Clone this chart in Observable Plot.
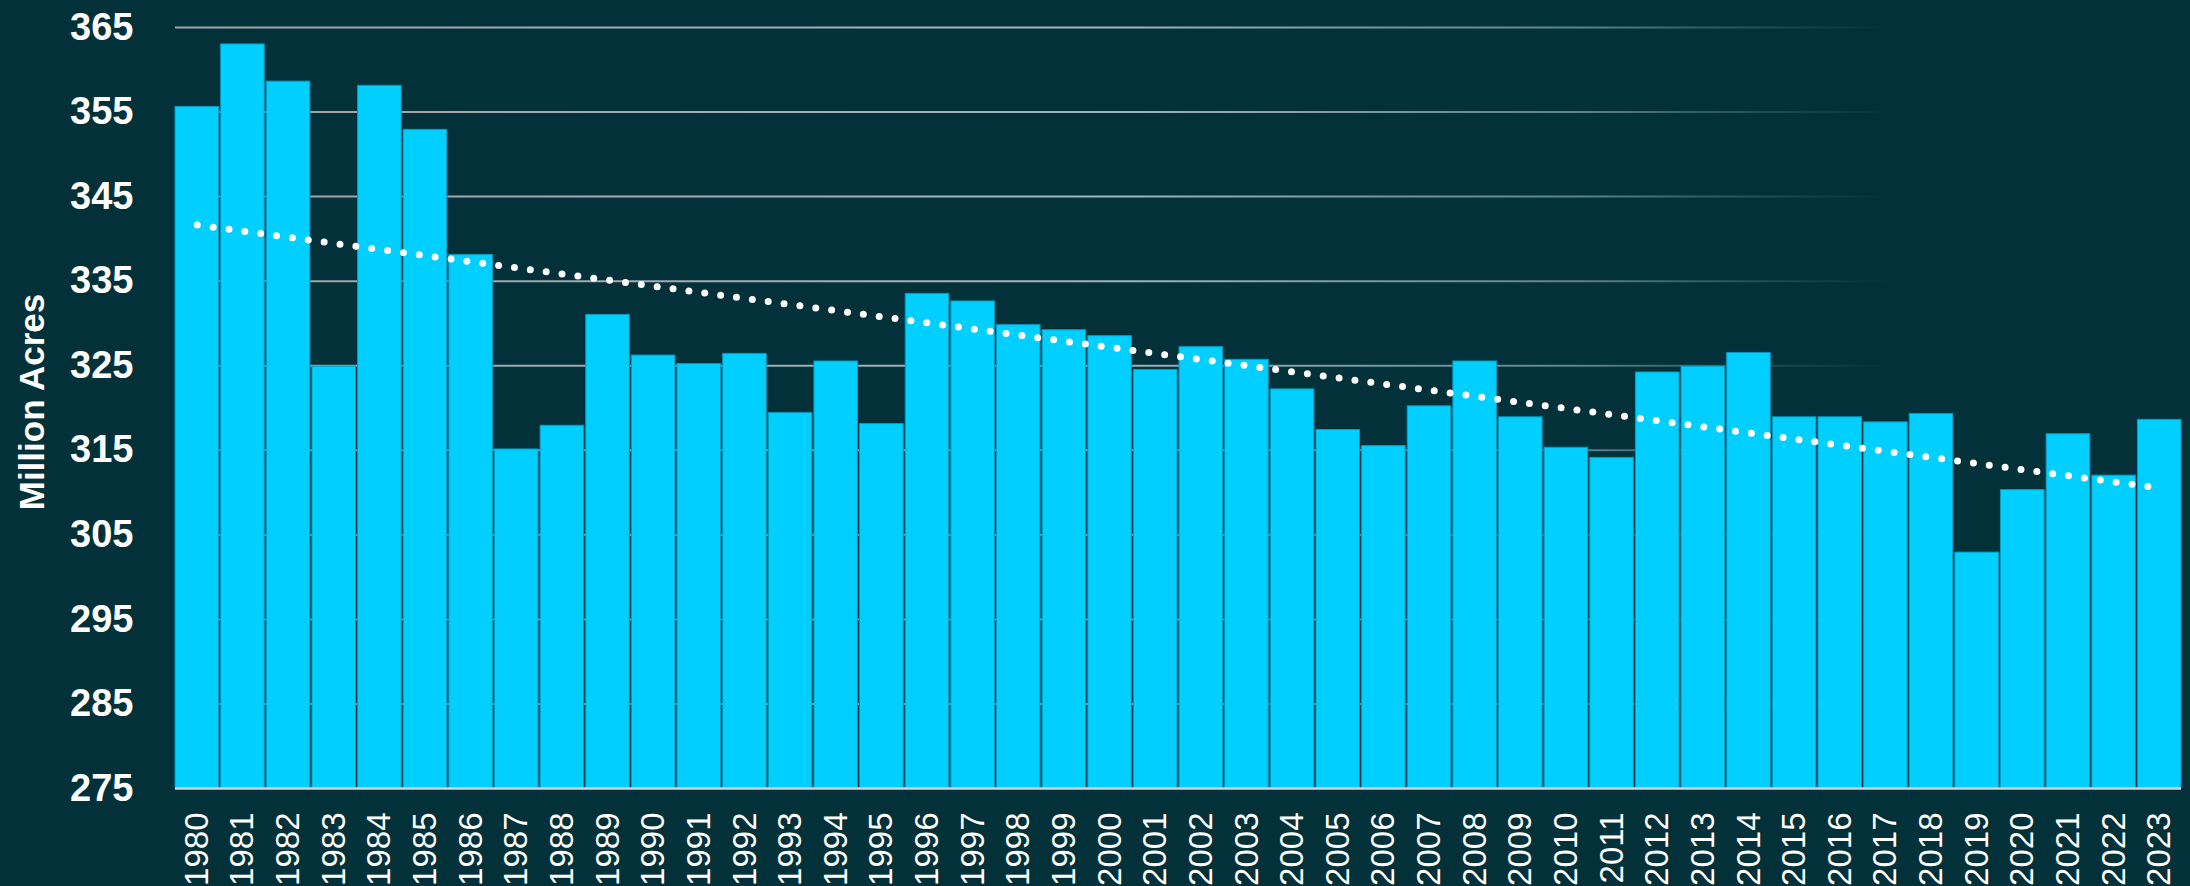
<!DOCTYPE html>
<html>
<head>
<meta charset="utf-8">
<script src="https://cdn.jsdelivr.net/npm/d3@7"></script>
<script src="https://cdn.jsdelivr.net/npm/@observablehq/plot@0.6"></script>
<style>
  html, body { margin: 0; padding: 0; background: #033139; }
  #chart { width: 2190px; height: 886px; overflow: hidden; }
</style>
</head>
<body>
<div id="chart"></div>
<script>
const years = ["1980","1981","1982","1983","1984","1985","1986","1987","1988","1989",
  "1990","1991","1992","1993","1994","1995","1996","1997","1998","1999",
  "2000","2001","2002","2003","2004","2005","2006","2007","2008","2009",
  "2010","2011","2012","2013","2014","2015","2016","2017","2018","2019",
  "2020","2021","2022","2023"];
const acres = [355.6, 363.0, 358.6, 324.9, 358.1, 352.9, 338.1, 315.1, 317.9, 331.0,
  326.2, 325.2, 326.4, 319.4, 325.5, 318.1, 333.5, 332.6, 329.8, 329.2,
  328.5, 324.5, 327.2, 325.7, 322.2, 317.4, 315.5, 320.2, 325.5, 318.9,
  315.3, 314.1, 324.2, 324.9, 326.5, 318.9, 318.9, 318.3, 319.3, 302.9,
  310.3, 316.9, 312.0, 318.6];
const yTicks = [275, 285, 295, 305, 315, 325, 335, 345, 355, 365];
const yLabel = "Million Acres";

// least-squares trend line fitted to the series
const idx = d3.range(years.length);
const mx = d3.mean(idx), my = d3.mean(acres);
const slope = d3.sum(idx, i => (i - mx) * (acres[i] - my)) / d3.sum(idx, i => (i - mx) ** 2);
const data = years.map((y, i) => ({year: y, acres: acres[i], trend: my + slope * (i - mx)}));

const defs = () => {
  const ns = "http://www.w3.org/2000/svg";
  const g = document.createElementNS(ns, "defs");
  g.innerHTML = `<linearGradient id="gridfade" gradientUnits="userSpaceOnUse" x1="175" y1="0" x2="1890" y2="0">
    <stop offset="0" stop-color="#a3a3a3"/>
    <stop offset="0.55" stop-color="#9fb3c2"/>
    <stop offset="0.82" stop-color="#7d9cae" stop-opacity="0.75"/>
    <stop offset="1" stop-color="#5a7d8e" stop-opacity="0"/>
  </linearGradient>`;
  return g;
};

const font = "'Liberation Sans', Arial, sans-serif";

const chart = Plot.plot({
  width: 2190,
  height: 886,
  marginLeft: 175,
  marginRight: 9,
  marginTop: 27,
  marginBottom: 98,
  style: {background: "#033139", color: "#ffffff", fontFamily: font, overflow: "visible"},
  x: {domain: years, paddingInner: 0.045, paddingOuter: 0, round: false, label: null},
  y: {domain: [yTicks[0], yTicks[yTicks.length - 1]], label: null},
  marks: [
    defs,
    Plot.ruleY(yTicks.slice(1), {stroke: "url(#gridfade)", strokeWidth: 2}),
    Plot.barY(data, {x: "year", y1: yTicks[0], y2: "acres", fill: "#00cfff", stroke: "#0899bd", strokeWidth: 1}),
    Plot.ruleY([yTicks[0]], {stroke: "#d4d4d4", strokeWidth: 2.5}),
    Plot.line(data, {x: "year", y: "trend", stroke: "#ffffff", strokeWidth: 7, strokeDasharray: "0 16", strokeLinecap: "round"}),
    Plot.axisX({tickSize: 0, tickPadding: 24, tickRotate: -90, fontSize: 33, fill: "#ffffff"}),
    Plot.axisY({ticks: yTicks, tickSize: 0, tickPadding: 42, fontSize: 38, fontWeight: "bold", fill: "#ffffff"}),
    Plot.text([yLabel], {frameAnchor: "left", dx: -143, dy: -6, rotate: -90, textAnchor: "middle",
      fontSize: 35, fontWeight: "bold", fill: "#ffffff", letterSpacing: "2px"})
  ]
});
document.getElementById("chart").appendChild(chart);
</script>
</body>
</html>
